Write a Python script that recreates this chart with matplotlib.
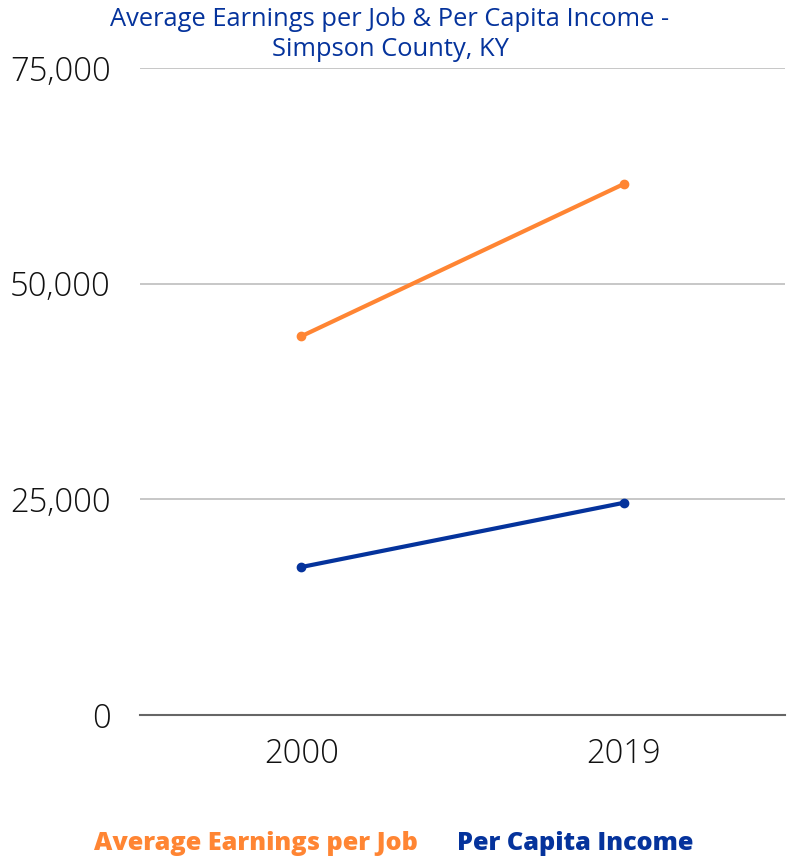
import matplotlib.pyplot as plt

years = ["2000", "2019"]
avg_earnings = [43900, 61550]
per_capita = [17150, 24600]
yticks = [0, 25000, 50000, 75000]

orange = "#FF8533"
blue = "#05339C"

fig = plt.figure(figsize=(7.94, 8.59), dpi=100)
ax = fig.add_axes([140 / 794, 1 - 715 / 859, 645 / 794, 647 / 859])

x = range(len(years))
ax.plot(x, avg_earnings, color=orange, lw=3, marker="o", ms=6)
ax.plot(x, per_capita, color=blue, lw=3, marker="o", ms=6)

ax.set_xlim(-0.5, 1.5)
ax.set_ylim(0, 75000)
ax.set_yticks(yticks)
ax.set_yticklabels([f"{v:,}" for v in yticks])
ax.set_xticks(list(x))
ax.set_xticklabels(years)
ax.grid(axis="y", color="#BDBDBD", lw=1.2)
ax.set_axisbelow(True)
for s in ["top", "right", "left"]:
    ax.spines[s].set_visible(False)
ax.spines["bottom"].set_color("#666666")
ax.spines["bottom"].set_linewidth(1.5)
ax.spines["bottom"].set_zorder(3)
ax.tick_params(length=0, labelsize=23.5, labelcolor="#111111")
ax.tick_params(axis="y", pad=21)
ax.tick_params(axis="x", pad=16)
for lab in ax.get_xticklabels() + ax.get_yticklabels():
    lab.set_fontfamily("Open Sans")
    lab.set_fontweight("light")

fig.text(390 / 794, 1 - 20 / 859, "Average Earnings per Job & Per Capita Income -",
         ha="center", va="center", fontsize=18.4, color=blue, family="Open Sans")
fig.text(390 / 794, 1 - 50 / 859, "Simpson County, KY",
         ha="center", va="center", fontsize=18.4, color=blue, family="Open Sans")

fig.text(256 / 794, 1 - 844 / 859, "Average Earnings per Job", ha="center",
         va="center", fontsize=18.2, color=orange, family="Open Sans", weight=800)
fig.text(575 / 794, 1 - 844 / 859, "Per Capita Income", ha="center",
         va="center", fontsize=18.2, color=blue, family="Open Sans", weight=800)

fig.savefig("out.png", dpi=100)
